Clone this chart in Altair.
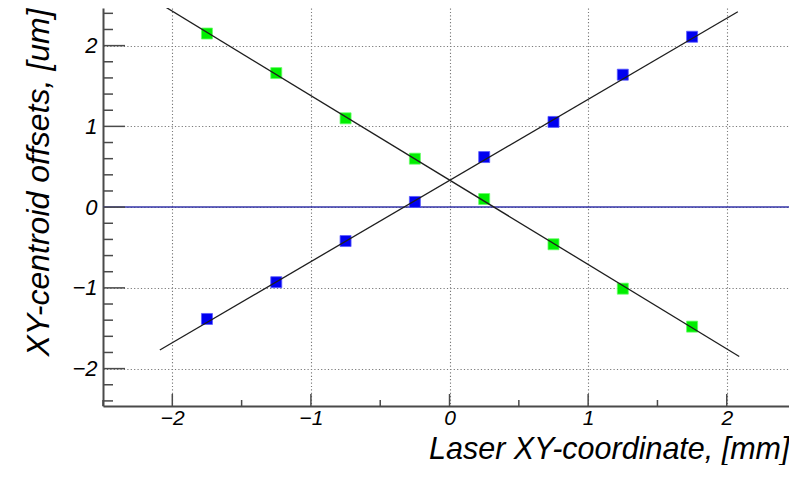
import altair as alt
import pandas as pd

# ---- data ----
x_pos = [-1.75, -1.25, -0.75, -0.25, 0.25, 0.75, 1.25, 1.75]
blue_y = [-1.385, -0.93, -0.42, 0.064, 0.62, 1.055, 1.64, 2.11]
green_y = [2.15, 1.66, 1.10, 0.60, 0.10, -0.46, -1.01, -1.48]

blue_fit_x = [-2.09, 2.08]
blue_fit_y = [-1.77, 2.42]
green_fit_x = [-2.07, 2.09]
green_fit_y = [2.50, -1.85]

zero_level = [0.0]

x_major = [-2, -1, 0, 1, 2]
x_minor = [-2.5, -1.5, -0.5, 0.5, 1.5]
y_major = [-2, -1, 0, 1, 2]
y_minor = [-2.4, -2.2, -1.8, -1.6, -1.4, -1.2, -0.8, -0.6, -0.4, -0.2,
           0.2, 0.4, 0.6, 0.8, 1.2, 1.4, 1.6, 1.8, 2.2, 2.4]

x_title = "Laser XY-coordinate, [mm]"
y_title = "XY-centroid offsets, [um]"

# ---- build tables ----
pts = pd.DataFrame({
    "x": x_pos * 2,
    "y": blue_y + green_y,
    "s": ["blue"] * len(x_pos) + ["green"] * len(x_pos),
})
fits = pd.DataFrame({
    "x": blue_fit_x + green_fit_x,
    "y": blue_fit_y + green_fit_y,
    "s": ["blue"] * 2 + ["green"] * 2,
})

FONT = "Liberation Sans"
W, H = 686, 398
xs = alt.Scale(domain=[-2.5, 2.449], nice=False, zero=False)
ys = alt.Scale(domain=[-2.463, 2.466], nice=False, zero=False)

GRID = "#7a7a7a"
x_axis = alt.Axis(
    values=x_major, ticks=False, grid=True, gridColor=GRID, gridDash=[1.2, 2.2],
    gridWidth=1.1, domainColor="#4a4a4a", domainWidth=2, labelFont=FONT,
    labelFontStyle="italic", labelFontSize=21, labelColor="black", labelPadding=1,
    title=x_title, titleFont=FONT, titleFontStyle="italic", titleFontWeight="normal",
    titleFontSize=30.5, titleColor="black", titleAlign="right", titleBaseline="alphabetic",
    titleX=W, titleY=52, titleAnchor="end",
)
y_axis = alt.Axis(
    values=y_major, ticks=False, grid=True, gridColor=GRID, gridDash=[1.2, 2.2],
    gridWidth=1.1, domainColor="#4a4a4a", domainWidth=2, labelFont=FONT,
    labelFontStyle="italic", labelFontSize=22, labelColor="black", labelPadding=6,
    title=y_title, titleFont=FONT, titleFontStyle="italic", titleFontWeight="normal",
    titleFontSize=32, titleColor="black", titleAngle=270, titleAlign="right",
    titleBaseline="alphabetic", titleX=-55, titleY=0, titleAnchor="end",
)

def X(field):
    return alt.X(field, type="quantitative", scale=xs, axis=x_axis)

def Y(field):
    return alt.Y(field, type="quantitative", scale=ys, axis=y_axis)

zero_line = alt.Chart(pd.DataFrame({"y": zero_level})).mark_rule(
    color="#3535a8", strokeWidth=1.5
).encode(y=Y("y"))

points = alt.Chart(pts).mark_square(size=121, opacity=1, strokeWidth=0.8).encode(
    x=X("x"),
    y=Y("y"),
    color=alt.Color("s:N", scale=alt.Scale(domain=["blue", "green"], range=["#0000f0", "#00ee00"]), legend=None),
    stroke=alt.Stroke("s:N", scale=alt.Scale(domain=["blue", "green"], range=["#5a5aff", "#66ff66"]), legend=None),
)

lines = alt.Chart(fits).mark_line(color="#1e1e1e", strokeWidth=1.3, clip=True).encode(
    x=X("x"),
    y=Y("y"),
    detail="s:N",
)

TICK = "#4a4a4a"
y_major_ticks = alt.Chart(pd.DataFrame({"y": y_major})).mark_rule(color=TICK, strokeWidth=1.5).encode(
    y=Y("y"), x=alt.value(0), x2=alt.value(22))
y_minor_ticks = alt.Chart(pd.DataFrame({"y": y_minor})).mark_rule(color=TICK, strokeWidth=1.5).encode(
    y=Y("y"), x=alt.value(0), x2=alt.value(10))
x_major_ticks = alt.Chart(pd.DataFrame({"x": x_major})).mark_rule(color=TICK, strokeWidth=1.5).encode(
    x=X("x"), y=alt.value(H), y2=alt.value(H - 12))
x_minor_ticks = alt.Chart(pd.DataFrame({"x": x_minor})).mark_rule(color=TICK, strokeWidth=1.5).encode(
    x=X("x"), y=alt.value(H), y2=alt.value(H - 6))

chart = alt.layer(
    zero_line, points, lines,
    y_major_ticks, y_minor_ticks, x_major_ticks, x_minor_ticks,
).properties(
    width=W, height=H,
    autosize=alt.AutoSizeParams(type="none"),
    padding={"left": 95, "top": 0, "right": 0, "bottom": 59},
    background="white",
).configure_view(strokeWidth=0)

chart.save("out.html", embed_options={"renderer": "svg", "actions": False})
